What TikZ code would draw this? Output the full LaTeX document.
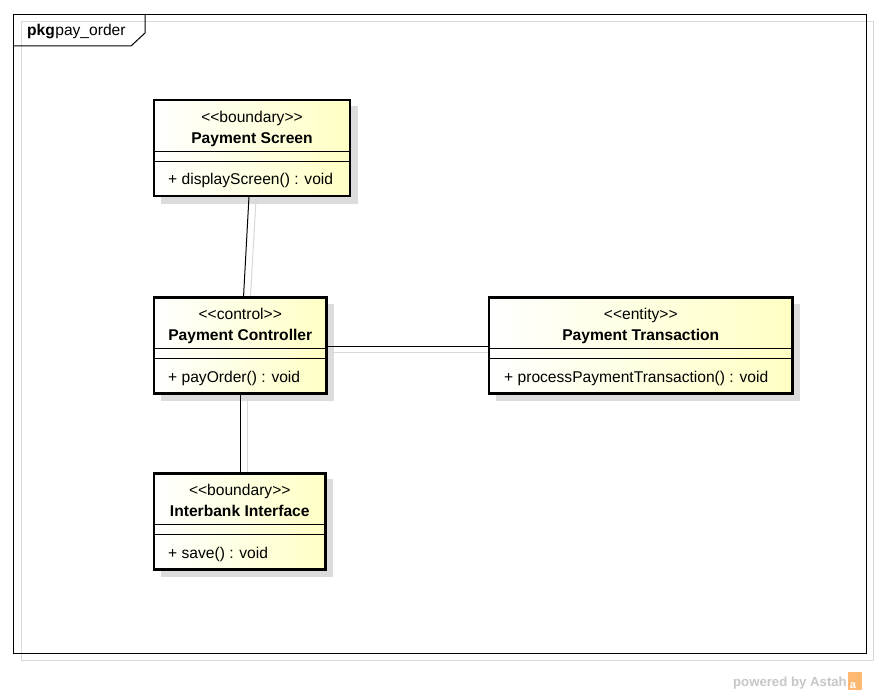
\documentclass[tikz,border=0pt]{standalone}
\usepackage{fontspec}
\setmainfont{Liberation Sans}
\definecolor{astahy}{HTML}{FFFFC4}
\definecolor{shadowg}{HTML}{DCDCDC}
\definecolor{faintg}{HTML}{D8D8D8}
\begin{document}
\begin{tikzpicture}[x=1pt,y=-1pt,
  classbox/.style={draw=black,line width=2.6pt,left color=white,right color=astahy},
  shadowbox/.style={fill=shadowg,draw=none},
  sep/.style={draw=black,line width=0.9pt},
  txt/.style={inner sep=0pt,font=\fontsize{15.6}{18}\selectfont},
  bold/.style={txt,font=\fontsize{15.6}{18}\selectfont\bfseries},
  conn/.style={draw=black,line width=1pt},
  ghost/.style={draw=faintg,line width=1pt}]
\useasboundingbox (0,0) rectangle (880,693);
\fill[white] (0,0) rectangle (880,693);
% frame
\draw[faintg,line width=1pt] (21,22) rectangle (873,660);
\draw[black,line width=1pt] (13.5,14.5) rectangle (866,653.5);
\draw[black,line width=1pt] (13.5,46) -- (131,46) -- (145,33) -- (145,14.5);
\node[bold,anchor=base west] (pkg) at (27,36) {pkg};
\node[txt,anchor=base west] (pkgname) at (pkg.base east) {pay\_order};
% shadows
\fill[shadowbox] (161,106) rectangle (358,204);
\fill[shadowbox] (161,304) rectangle (334,401);
\fill[shadowbox] (496,304) rectangle (800,401);
\fill[shadowbox] (161,479) rectangle (333,577);
% ghost connectors
\draw[ghost] (256,199) -- (250,305);
\draw[ghost] (332,352) -- (497,352);
\draw[ghost] (247,397) -- (247,480);
% boxes
\path[classbox] (154,100) rectangle (350,196);
\path[classbox] (154,297.5) rectangle (326.5,393.5);
\path[classbox] (489,297.5) rectangle (792.5,393.5);
\path[classbox] (154,473.5) rectangle (325.5,569.5);
\node[inner sep=0pt,minimum width=196pt,minimum height=96pt] (screen) at (252,148) {};
\node[inner sep=0pt,minimum width=172.5pt,minimum height=96pt] (ctrl) at (240.25,345.5) {};
\node[inner sep=0pt,minimum width=303.5pt,minimum height=96pt] (trans) at (640.75,345.5) {};
\node[inner sep=0pt,minimum width=171.5pt,minimum height=96pt] (inter) at (239.75,521.5) {};
% separators
\draw[sep] (154,151) -- (350,151);
\draw[sep] (154,161.5) -- (350,161.5);
\draw[sep] (154,348) -- (326.5,348);
\draw[sep] (154,358.5) -- (326.5,358.5);
\draw[sep] (489,348) -- (792.5,348);
\draw[sep] (489,358.5) -- (792.5,358.5);
\draw[sep] (154,524) -- (325.5,524);
\draw[sep] (154,534.5) -- (325.5,534.5);
% borders on top
\draw[black,line width=2.6pt] (154,100) rectangle (350,196);
\draw[black,line width=2.6pt] (154,297.5) rectangle (326.5,393.5);
\draw[black,line width=2.6pt] (489,297.5) rectangle (792.5,393.5);
\draw[black,line width=2.6pt] (154,473.5) rectangle (325.5,569.5);
% texts
\node[txt,anchor=base] (s1) at (252,122) {<{}<boundary>{}>};
\node[bold,anchor=base] (s2) at (252,143) {Payment Screen};
\node[txt,anchor=base west] (s3) at (168,184) {+ displayScreen() : void};
\node[txt,anchor=base] (c1) at (240.25,319) {<{}<control>{}>};
\node[bold,anchor=base] (c2) at (240.25,340) {Payment Controller};
\node[txt,anchor=base west] (c3) at (168,382) {+ payOrder() : void};
\node[txt,anchor=base] (t1) at (640.75,319) {<{}<entity>{}>};
\node[bold,anchor=base] (t2) at (640.75,340) {Payment Transaction};
\node[txt,anchor=base west] (t3) at (504,382) {+ processPaymentTransaction() : void};
\node[txt,anchor=base] (i1) at (239.75,495) {<{}<boundary>{}>};
\node[bold,anchor=base] (i2) at (239.75,516) {Interbank Interface};
\node[txt,anchor=base west] (i3) at (168,558) {+ save() : void};
% connectors
\draw[conn] (screen.south -| 249,0) -- (ctrl.north -| 243.5,0);
\draw[conn] (ctrl.east |- 0,346) -- (trans.west |- 0,346);
\draw[conn] (ctrl.south -| 240,0) -- (inter.north -| 240,0);
% watermark
\node[anchor=base east,inner sep=0pt,text=black!22,font=\fontsize{13.2}{16}\selectfont\bfseries] (wm) at (847,686) {powered by Astah};
\fill[orange!55] (848,672) rectangle (862,690);
\node[anchor=base,inner sep=0pt,text=white,font=\fontsize{11}{12}\selectfont\bfseries] (wmicon) at (853,688) {a};
\end{tikzpicture}
\end{document}
